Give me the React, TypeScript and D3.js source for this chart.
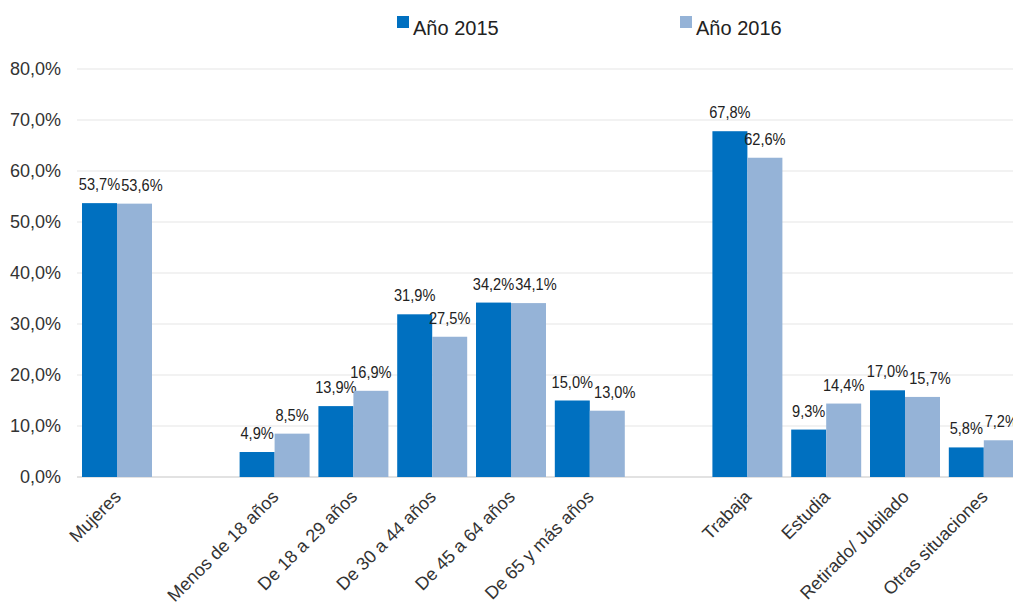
import React from "react";
import * as d3 from "d3";

const slots = ["Mujeres", "_gap1", "Menos de 18 años", "De 18 a 29 años", "De 30 a 44 años", "De 45 a 64 años", "De 65 y más años", "_gap2", "Trabaja", "Estudia", "Retirado/ Jubilado", "Otras situaciones"];
const categories = ["Mujeres", "Menos de 18 años", "De 18 a 29 años", "De 30 a 44 años", "De 45 a 64 años", "De 65 y más años", "Trabaja", "Estudia", "Retirado/ Jubilado", "Otras situaciones"];
const series = ["Año 2015", "Año 2016"];
const values2015 = [53.7, 4.9, 13.9, 31.9, 34.2, 15.0, 67.8, 9.3, 17.0, 5.8];
const values2016 = [53.6, 8.5, 16.9, 27.5, 34.1, 13.0, 62.6, 14.4, 15.7, 7.2];
const yTicks = [0, 10, 20, 30, 40, 50, 60, 70, 80];
const colors = ["#0070C0", "#95B3D7"];

const W = 1013, H = 602;
const fmt = (v: number) => v.toFixed(1).replace(".", ",") + "%";

const LBL_SIZE = 17;
const LBL_SX = 0.86;
// approximate Arial advance widths (em)
const textWidth = (s: string) => {
  let w = 0;
  for (const ch of s) {
    if (ch >= "0" && ch <= "9") w += 0.556;
    else if (ch === ",") w += 0.278;
    else if (ch === "%") w += 0.889;
    else w += 0.5;
  }
  return w * LBL_SIZE * LBL_SX;
};

export default function App() {
  const x0 = d3.scaleBand<string>().domain(slots).range([77.6, 77.6 + 12 * 78.8]).paddingInner(0).paddingOuter(0);
  const x1 = d3.scaleBand<string>().domain(series).range([0, x0.bandwidth()]).paddingInner(0).paddingOuter(0.126);
  const y = d3.scaleLinear().domain([0, 80]).range([477, 69]);
  const data = [values2015, values2016];
  const font = "'Liberation Sans', Arial, sans-serif";

  return (
    <svg width={W} height={H} style={{ position: "absolute", left: 0, top: 0, background: "#fff" }}>
      {yTicks.map((t) => (
        <g key={t}>
          {t > 0 && <line x1={77} x2={W} y1={y(t)} y2={y(t)} stroke="#EEEEEE" strokeWidth={1.5} />}
          <text x={61} y={y(t)} dy="0.35em" textAnchor="end" fontFamily={font} fontSize={18} fill="#333">{fmt(t)}</text>
        </g>
      ))}
      <line x1={77} x2={W} y1={y(0)} y2={y(0)} stroke="#D9D9D9" strokeWidth={1.5} />
      {categories.map((c, i) => {
        const bw = x1.bandwidth();
        const centers = series.map((s) => (x0(c) as number) + (x1(s) as number) + bw / 2);
        const labels = data.map((d) => fmt(d[i]));
        const widths = labels.map(textWidth);
        const ly = data.map((d) => y(d[i]) - 13);
        const lx = [...centers];
        const right0 = lx[0] + widths[0] / 2 + 1;
        const left1 = lx[1] - widths[1] / 2;
        if (Math.abs(ly[0] - ly[1]) < 14 && left1 < right0) lx[1] += right0 - left1;
        return (
          <g key={c}>
            {series.map((s, si) => {
              const v = data[si][i];
              const bx = centers[si] - bw / 2;
              return (
                <g key={s}>
                  <rect x={bx} y={y(v)} width={bw} height={y(0) - y(v)} fill={colors[si]} />
                  <text transform={`translate(${lx[si]},${ly[si]}) scale(${LBL_SX},1)`} textAnchor="middle" fontFamily={font} fontSize={LBL_SIZE} fill="#222">{labels[si]}</text>
                </g>
              );
            })}
            <text
              transform={`translate(${(x0(c) as number) + x0.bandwidth() / 2 + 5},${498}) rotate(-45)`}
              textAnchor="end"
              fontFamily={font}
              fontSize={18}
              fill="#333"
            >{c}</text>
          </g>
        );
      })}
      {series.map((s, si) => {
        const lx = si === 0 ? 397 : 680;
        return (
          <g key={s}>
            <rect x={lx} y={16} width={12} height={12} fill={colors[si]} />
            <text x={lx + 16} y={35} fontFamily={font} fontSize={20} fill="#222">{s}</text>
          </g>
        );
      })}
    </svg>
  );
}
